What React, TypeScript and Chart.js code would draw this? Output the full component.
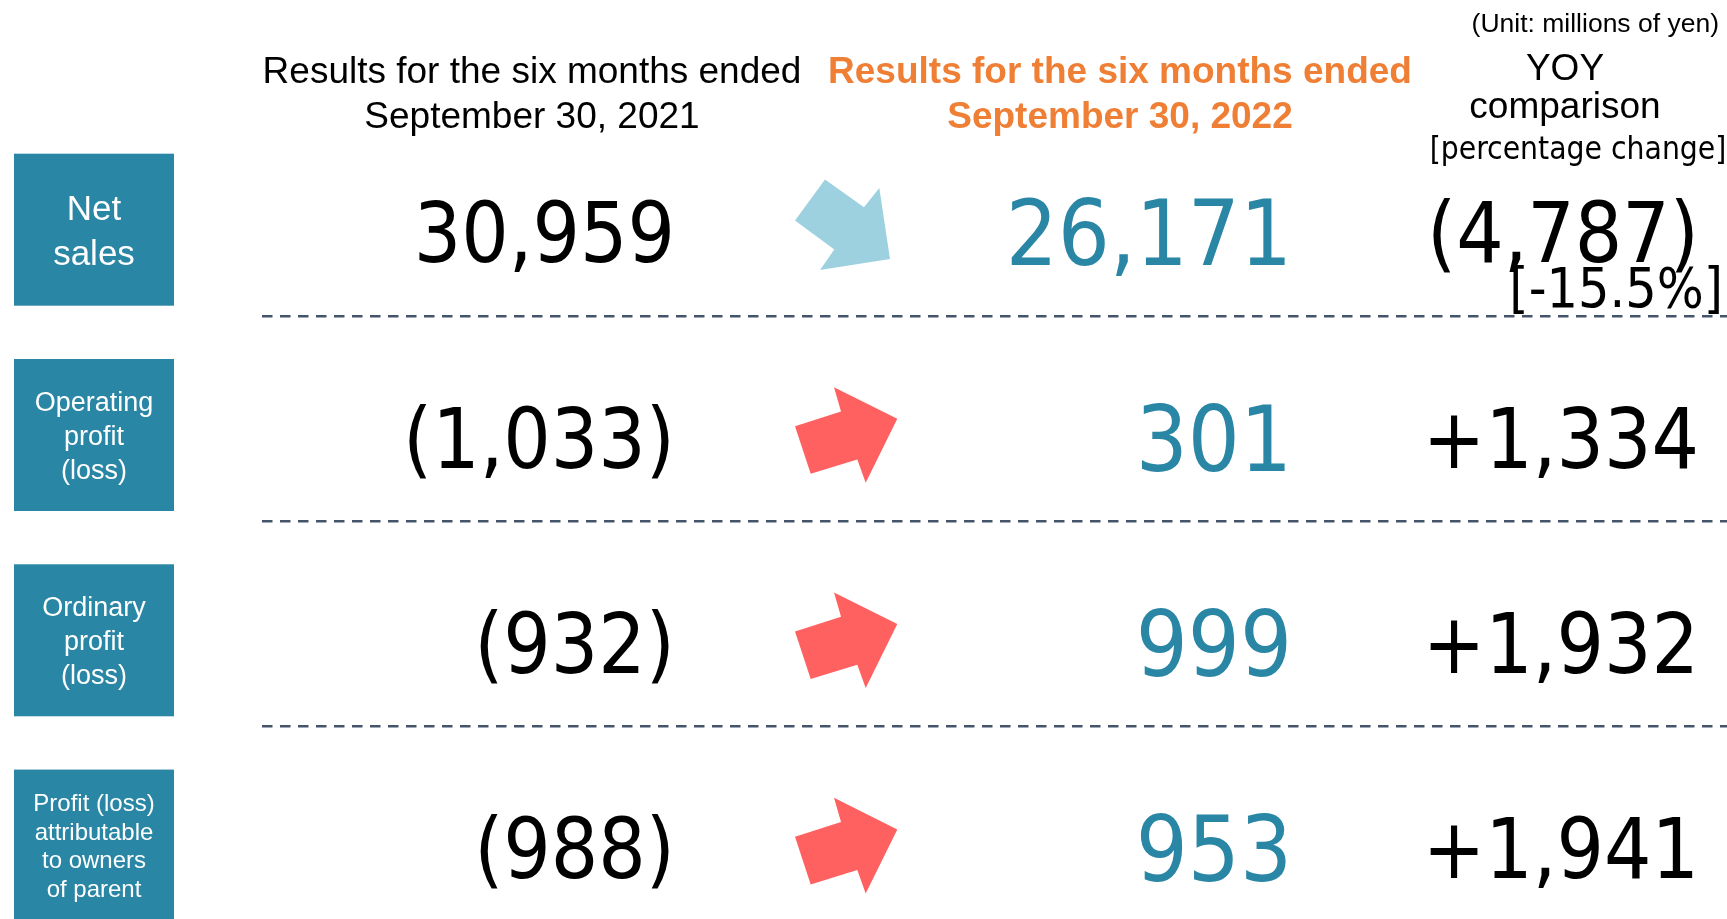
import React, { useEffect, useRef } from "react";
import { Chart, registerables } from "chart.js";

Chart.register(...registerables);

// ---------- data ----------
const ROW_LABELS: string[][] = [
  ["Net", "sales"],
  ["Operating", "profit", "(loss)"],
  ["Ordinary", "profit", "(loss)"],
  ["Profit (loss)", "attributable", "to owners", "of parent"],
];
const PREV_VALUES: number[] = [30959, -1033, -932, -988];
const CURR_VALUES: number[] = [26171, 301, 999, 953];
const YOY_VALUES: number[] = [-4787, 1334, 1932, 1941];
const YOY_PCT: (number | null)[] = [-15.5, null, null, null];

const HEADER_PREV: string[] = ["Results for the six months ended", "September 30, 2021"];
const HEADER_CURR: string[] = ["Results for the six months ended", "September 30, 2022"];
const HEADER_YOY: string[] = ["YOY", "comparison", "[percentage change]"];
const UNIT_TEXT = "(Unit: millions of yen)";

// ---------- styling / layout ----------
const W = 1727;
const H = 919;
const TEAL = "#2A86A5";
const ORANGE = "#EE7F35";
const BLUE_ARROW = "#9DD1DF";
const RED_ARROW = "#FF6161";
const DASH = "#44546A";
const SANS = '"Liberation Sans", Arial, sans-serif';

const COL = {
  boxLeft: 14,
  boxRight: 174,
  prevRight: 675,
  arrow: 846,
  currRight: 1292,
  yoyRight: 1699,
  pctRight: 1723,
  dashStart: 262,
  hPrev: 532,
  hCurr: 1120,
  hYoy: 1565,
  unitRight: 1719,
};

const fmtPlain = (n: number) => Math.abs(n).toLocaleString("en-US");
const fmtValue = (n: number) => (n < 0 ? `(${fmtPlain(n)})` : fmtPlain(n));
const fmtYoy = (n: number) => (n < 0 ? `(${fmtPlain(n)})` : `+${fmtPlain(n)}`);
const fmtPct = (p: number) => `[${p.toFixed(1)}%]`;

// arrow outlines (shape offsets around an anchor)
const ARROW_UP: [number, number][] = [
  [-12, -50.3], [51.3, -18.7], [19.7, 45.3], [11.3, 22], [-35.3, 36.3], [-51, -11.3], [-5, -26],
];
const ARROW_DOWN: [number, number][] = [
  [-21, -52.7], [18, -25], [33.3, -44.3], [44, 26.7], [-26, 37.7], [-11.7, 17.3], [-51, -11.7],
];

export default function App() {
  const ref = useRef<HTMLCanvasElement | null>(null);

  useEffect(() => {
    document.body.style.margin = "0";
    const canvas = ref.current;
    if (!canvas) return;

    const probe = canvas.getContext("2d")!;
    probe.font = '100px "DejaVu Sans Condensed", monospace';
    const w1 = probe.measureText("0000(),").width;
    probe.font = "100px monospace";
    const w2 = probe.measureText("0000(),").width;
    const hasCondensed = Math.abs(w1 - w2) > 0.5;

    const drawNum = (
      ctx: CanvasRenderingContext2D,
      text: string,
      x: number,
      y: number,
      size: number,
      color: string,
      align: CanvasTextAlign
    ) => {
      ctx.save();
      ctx.fillStyle = color;
      ctx.textAlign = align;
      ctx.textBaseline = "alphabetic";
      if (hasCondensed) {
        ctx.font = `${size}px "DejaVu Sans Condensed"`;
        ctx.fillText(text, x, y);
      } else {
        ctx.translate(x, y);
        ctx.scale(0.9, 1);
        ctx.font = `${size}px "DejaVu Sans"`;
        ctx.fillText(text, 0, 0);
      }
      ctx.restore();
    };

    const tablePlugin = {
      id: "tablePlugin",
      afterDraw(chart: any) {
        const ctx: CanvasRenderingContext2D = chart.ctx;
        const xs = chart.scales.x;
        const ys = chart.scales.y;
        const top = chart.chartArea.top;
        const px = (v: number) => xs.getPixelForValue(v);

        ctx.save();
        // headers
        ctx.textAlign = "center";
        ctx.textBaseline = "alphabetic";
        ctx.fillStyle = "#000";
        ctx.font = `37px ${SANS}`;
        HEADER_PREV.forEach((t, i) => ctx.fillText(t, px(COL.hPrev), top + 83 + i * 45));
        ctx.fillStyle = ORANGE;
        ctx.font = `bold 37px ${SANS}`;
        HEADER_CURR.forEach((t, i) => ctx.fillText(t, px(COL.hCurr), top + 83 + i * 45));
        ctx.fillStyle = "#000";
        ctx.font = `37px ${SANS}`;
        ctx.fillText(HEADER_YOY[0], px(COL.hYoy), top + 80);
        ctx.fillText(HEADER_YOY[1], px(COL.hYoy), top + 118);
        drawNum(ctx, HEADER_YOY[2], px(1578), top + 159, 31.5, "#000", "center");
        ctx.textAlign = "right";
        ctx.font = `26.5px ${SANS}`;
        ctx.fillText(UNIT_TEXT, px(COL.unitRight), top + 32);

        ROW_LABELS.forEach((lines, i) => {
          const yc = ys.getPixelForValue(i);
          // label box
          const bc = yc - 2.5;
          ctx.fillStyle = TEAL;
          ctx.fillRect(px(COL.boxLeft), bc - 76, px(COL.boxRight) - px(COL.boxLeft), 152);
          const n = lines.length;
          const size = n === 2 ? 35 : n === 3 ? 27 : 24;
          const sp = n === 2 ? 45 : n === 3 ? 34 : 28.6;
          ctx.fillStyle = "#fff";
          ctx.font = `${size}px ${SANS}`;
          ctx.textAlign = "center";
          const cx = (px(COL.boxLeft) + px(COL.boxRight)) / 2;
          lines.forEach((t, k) => {
            ctx.fillText(t, cx, bc + (k - (n - 1) / 2) * sp + size * 0.358);
          });

          // values
          drawNum(ctx, fmtValue(PREV_VALUES[i]), px(COL.prevRight), yc + 83 * 0.3645, 83, "#000", "right");
          drawNum(ctx, fmtValue(CURR_VALUES[i]), px(COL.currRight), yc + 91 * 0.3645, 91, TEAL, "right");
          drawNum(ctx, fmtYoy(YOY_VALUES[i]), px(COL.yoyRight), yc + 83 * 0.3645, 83, "#000", "right");
          const p = YOY_PCT[i];
          if (p !== null) {
            drawNum(ctx, fmtPct(p), px(COL.pctRight), yc + 75, 55, "#000", "right");
          }

          // arrow
          const shape = YOY_VALUES[i] < 0 ? ARROW_DOWN : ARROW_UP;
          ctx.fillStyle = YOY_VALUES[i] < 0 ? BLUE_ARROW : RED_ARROW;
          ctx.beginPath();
          shape.forEach(([dx, dy], k) => {
            const X = px(COL.arrow) + dx;
            const Y = yc + dy;
            if (k === 0) ctx.moveTo(X, Y);
            else ctx.lineTo(X, Y);
          });
          ctx.closePath();
          ctx.fill();

          // separator
          if (i < ROW_LABELS.length - 1) {
            ctx.strokeStyle = DASH;
            ctx.lineWidth = 2.5;
            ctx.setLineDash([10.5, 7.5]);
            ctx.beginPath();
            const ly = Math.round(yc + 83.5) + 0.25;
            ctx.moveTo(px(COL.dashStart), ly);
            ctx.lineTo(chart.chartArea.right, ly);
            ctx.stroke();
            ctx.setLineDash([]);
          }
        });
        ctx.restore();
      },
    };

    const chart = new Chart(canvas, {
      type: "scatter",
      data: {
        datasets: [
          {
            data: CURR_VALUES.map((_, i) => ({ x: COL.currRight, y: i })),
            pointRadius: 0,
            showLine: false,
          },
        ],
      },
      options: {
        animation: false,
        responsive: false,
        devicePixelRatio: 1,
        events: [],
        layout: { padding: 0 },
        plugins: { legend: { display: false }, tooltip: { enabled: false } },
        scales: {
          x: { type: "linear", min: 0, max: W, display: false },
          y: { type: "linear", min: -1.131, max: 3.3454, reverse: true, display: false },
        },
      },
      plugins: [tablePlugin],
    });
    return () => chart.destroy();
  }, []);

  return (
    <div style={{ width: W, height: H, background: "#fff" }}>
      <canvas ref={ref} width={W} height={H} style={{ display: "block", width: W, height: H }} />
    </div>
  );
}
